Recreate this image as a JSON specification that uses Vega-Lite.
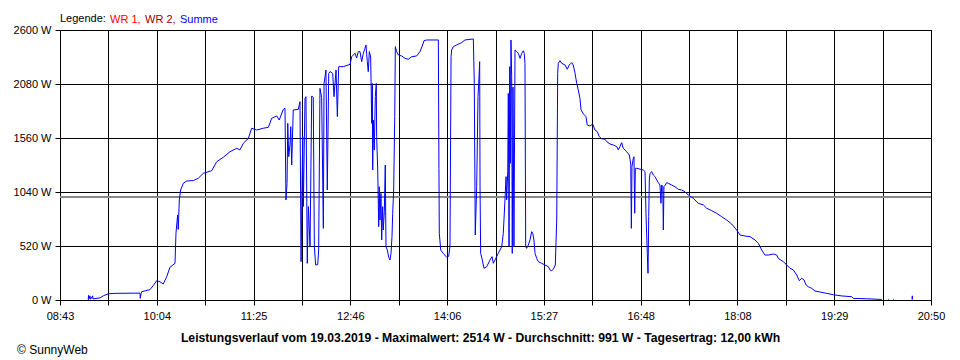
{
  "$schema": "https://vega.github.io/schema/vega-lite/v6.json",
  "width": 871,
  "height": 270,
  "autosize": {"type": "none"},
  "padding": {"left": 60, "top": 30, "right": 29, "bottom": 60},
  "background": "white",
  "title": {"text": "© SunnyWeb", "orient": "bottom", "anchor": "start", "frame": "bounds", "fontSize": 12, "fontWeight": "normal", "font": "Liberation Sans", "color": "black", "offset": 1, "dx": 4},
  "config": {
    "font": "Liberation Sans",
    "view": {"stroke": "black", "strokeWidth": 1},
    "axis": {"domainColor": "black", "tickColor": "black", "gridColor": "black", "gridOpacity": 1, "labelColor": "black", "labelFontSize": 11, "labelFont": "Liberation Sans", "tickSize": 5}
  },
  "data": {"values": [
{"t":546.6,"W":0},{"t":546.8,"W":45},{"t":547.2,"W":10},{"t":548.0,"W":40},{"t":548.5,"W":8},{"t":550.3,"W":40},{"t":550.5,"W":10},{"t":553.0,"W":15},{"t":556.4,"W":20},{"t":559.1,"W":40},{"t":563.3,"W":60},{"t":568.9,"W":64},{"t":577.3,"W":65},{"t":585.6,"W":66},{"t":589.8,"W":66},{"t":590.0,"W":16},{"t":590.6,"W":60},{"t":591.2,"W":80},{"t":594.0,"W":88},{"t":598.1,"W":100},{"t":600.9,"W":140},{"t":603.7,"W":186},{"t":606.5,"W":175},{"t":609.2,"W":154},{"t":612.1,"W":225},{"t":614.8,"W":315},{"t":619.0,"W":353},{"t":619.8,"W":642},{"t":620.7,"W":760},{"t":621.2,"W":819},{"t":621.7,"W":680},{"t":622.6,"W":963},{"t":623.7,"W":1059},{"t":625.9,"W":1124},{"t":628.8,"W":1146},{"t":634.3,"W":1150},{"t":638.4,"W":1172},{"t":642.6,"W":1220},{"t":649.6,"W":1245},{"t":653.8,"W":1332},{"t":659.3,"W":1374},{"t":664.9,"W":1428},{"t":670.5,"W":1461},{"t":673.2,"W":1445},{"t":676.0,"W":1509},{"t":680.2,"W":1557},{"t":683.0,"W":1654},{"t":687.2,"W":1637},{"t":692.7,"W":1654},{"t":696.9,"W":1663},{"t":699.7,"W":1750},{"t":703.9,"W":1772},{"t":706.0,"W":1733},{"t":709.4,"W":1836},{"t":710.8,"W":1846},{"t":711.6,"W":963},{"t":712.5,"W":1124},{"t":713.1,"W":1701},{"t":713.9,"W":1380},{"t":715.0,"W":1500},{"t":715.6,"W":1669},{"t":716.4,"W":1300},{"t":717.7,"W":1830},{"t":721.9,"W":1836},{"t":723.3,"W":1910},{"t":724.2,"W":369},{"t":725.6,"W":1573},{"t":726.1,"W":900},{"t":727.5,"W":1942},{"t":728.3,"W":1958},{"t":729.4,"W":353},{"t":730.3,"W":900},{"t":731.7,"W":513},{"t":733.1,"W":1965},{"t":734.4,"W":1950},{"t":735.3,"W":513},{"t":736.4,"W":337},{"t":738.1,"W":340},{"t":738.9,"W":481},{"t":740.0,"W":2038},{"t":741.4,"W":1950},{"t":742.8,"W":690},{"t":743.4,"W":2086},{"t":745.0,"W":2215},{"t":746.1,"W":1059},{"t":747.3,"W":2182},{"t":748.4,"W":2200},{"t":750.6,"W":2182},{"t":751.7,"W":1958},{"t":753.4,"W":2215},{"t":754.5,"W":1766},{"t":755.6,"W":2247},{"t":759.5,"W":2247},{"t":765.1,"W":2269},{"t":766.5,"W":2343},{"t":769.2,"W":2376},{"t":770.6,"W":2330},{"t":772.0,"W":2392},{"t":773.4,"W":2392},{"t":774.8,"W":2295},{"t":776.2,"W":2376},{"t":777.6,"W":2424},{"t":778.4,"W":2456},{"t":779.5,"W":2295},{"t":780.3,"W":2199},{"t":781.2,"W":2392},{"t":782.3,"W":2340},{"t":783.2,"W":1701},{"t":783.7,"W":2086},{"t":784.0,"W":1252},{"t":784.5,"W":1733},{"t":785.3,"W":1445},{"t":786.2,"W":1958},{"t":787.0,"W":2086},{"t":787.3,"W":1573},{"t":788.2,"W":1252},{"t":789.0,"W":706},{"t":789.5,"W":1091},{"t":790.1,"W":770},{"t":790.9,"W":1027},{"t":791.5,"W":578},{"t":792.3,"W":899},{"t":792.8,"W":674},{"t":793.7,"W":850},{"t":794.5,"W":1300},{"t":795.1,"W":513},{"t":796.2,"W":481},{"t":797.4,"W":411},{"t":798.4,"W":385},{"t":799.3,"W":449},{"t":800.1,"W":610},{"t":800.7,"W":835},{"t":801.5,"W":1059},{"t":802.4,"W":1766},{"t":802.9,"W":2440},{"t":804.0,"W":2392},{"t":805.4,"W":2359},{"t":808.2,"W":2350},{"t":811.0,"W":2327},{"t":813.7,"W":2318},{"t":816.6,"W":2343},{"t":820.7,"W":2350},{"t":823.5,"W":2392},{"t":825.7,"W":2456},{"t":826.8,"W":2497},{"t":829.1,"W":2504},{"t":838.8,"W":2504},{"t":839.3,"W":1268},{"t":839.6,"W":642},{"t":840.8,"W":481},{"t":842.9,"W":449},{"t":845.8,"W":411},{"t":847.4,"W":420},{"t":848.5,"W":513},{"t":849.4,"W":2343},{"t":849.9,"W":2408},{"t":851.3,"W":2440},{"t":854.1,"W":2456},{"t":858.3,"W":2479},{"t":861.0,"W":2504},{"t":868.0,"W":2514},{"t":868.8,"W":2086},{"t":869.6,"W":626},{"t":870.8,"W":1091},{"t":871.9,"W":1958},{"t":872.7,"W":2135},{"t":873.3,"W":2295},{"t":873.6,"W":1091},{"t":874.1,"W":449},{"t":875.2,"W":401},{"t":876.9,"W":305},{"t":879.2,"W":321},{"t":881.9,"W":385},{"t":883.6,"W":417},{"t":884.7,"W":353},{"t":886.1,"W":385},{"t":888.8,"W":449},{"t":891.7,"W":513},{"t":893.0,"W":642},{"t":894.4,"W":963},{"t":895.3,"W":1188},{"t":895.8,"W":963},{"t":896.7,"W":1236},{"t":897.2,"W":1990},{"t":897.8,"W":513},{"t":898.4,"W":2247},{"t":898.9,"W":1316},{"t":899.4,"W":2504},{"t":900.0,"W":2150},{"t":900.5,"W":449},{"t":901.1,"W":2050},{"t":901.9,"W":513},{"t":902.8,"W":2408},{"t":904.2,"W":2392},{"t":905.5,"W":2376},{"t":907.0,"W":2327},{"t":908.4,"W":2376},{"t":909.7,"W":2400},{"t":910.5,"W":2376},{"t":911.1,"W":2279},{"t":911.7,"W":513},{"t":912.5,"W":497},{"t":913.9,"W":529},{"t":915.3,"W":578},{"t":916.7,"W":658},{"t":917.6,"W":642},{"t":918.6,"W":578},{"t":919.5,"W":449},{"t":920.9,"W":401},{"t":922.2,"W":369},{"t":925.1,"W":353},{"t":927.8,"W":337},{"t":930.6,"W":321},{"t":932.0,"W":289},{"t":933.4,"W":282},{"t":934.7,"W":295},{"t":936.4,"W":337},{"t":937.6,"W":770},{"t":938.4,"W":2183},{"t":938.9,"W":2279},{"t":940.3,"W":2305},{"t":941.8,"W":2279},{"t":944.5,"W":2263},{"t":946.4,"W":2222},{"t":948.1,"W":2263},{"t":950.1,"W":2286},{"t":951.4,"W":2263},{"t":952.9,"W":2183},{"t":954.3,"W":2086},{"t":955.6,"W":2022},{"t":957.0,"W":1942},{"t":957.9,"W":1830},{"t":959.8,"W":1792},{"t":962.0,"W":1766},{"t":963.1,"W":1685},{"t":965.4,"W":1675},{"t":967.6,"W":1695},{"t":969.5,"W":1637},{"t":971.5,"W":1621},{"t":973.1,"W":1573},{"t":975.1,"W":1553},{"t":977.9,"W":1547},{"t":979.3,"W":1525},{"t":982.1,"W":1502},{"t":984.8,"W":1493},{"t":987.7,"W":1477},{"t":989.0,"W":1445},{"t":990.4,"W":1477},{"t":991.8,"W":1515},{"t":993.2,"W":1460},{"t":996.0,"W":1428},{"t":998.2,"W":1396},{"t":999.4,"W":1310},{"t":999.9,"W":690},{"t":1000.4,"W":1284},{"t":1001.5,"W":1364},{"t":1002.1,"W":1380},{"t":1002.7,"W":835},{"t":1003.2,"W":1268},{"t":1004.4,"W":1268},{"t":1007.1,"W":1260},{"t":1009.9,"W":1252},{"t":1011.3,"W":1236},{"t":1012.1,"W":835},{"t":1013.2,"W":449},{"t":1013.8,"W":257},{"t":1014.4,"W":803},{"t":1014.9,"W":1156},{"t":1015.5,"W":1220},{"t":1016.9,"W":1236},{"t":1018.2,"W":1204},{"t":1019.6,"W":1188},{"t":1021.1,"W":1156},{"t":1022.4,"W":1130},{"t":1023.8,"W":1107},{"t":1024.6,"W":931},{"t":1025.2,"W":1107},{"t":1026.1,"W":1091},{"t":1026.6,"W":674},{"t":1027.1,"W":1091},{"t":1028.2,"W":1107},{"t":1029.4,"W":1130},{"t":1030.7,"W":1124},{"t":1033.6,"W":1107},{"t":1036.3,"W":1091},{"t":1039.1,"W":1066},{"t":1041.9,"W":1059},{"t":1044.7,"W":1043},{"t":1047.4,"W":1011},{"t":1051.6,"W":979},{"t":1055.8,"W":931},{"t":1060.0,"W":915},{"t":1062.8,"W":883},{"t":1067.0,"W":860},{"t":1071.1,"W":835},{"t":1075.3,"W":802},{"t":1079.5,"W":770},{"t":1083.6,"W":732},{"t":1087.8,"W":674},{"t":1090.6,"W":626},{"t":1094.8,"W":616},{"t":1098.9,"W":610},{"t":1103.1,"W":578},{"t":1105.9,"W":546},{"t":1108.7,"W":481},{"t":1111.4,"W":433},{"t":1114.2,"W":433},{"t":1118.4,"W":443},{"t":1121.2,"W":433},{"t":1122.5,"W":401},{"t":1126.7,"W":369},{"t":1129.6,"W":337},{"t":1132.3,"W":305},{"t":1135.1,"W":289},{"t":1137.9,"W":241},{"t":1140.1,"W":186},{"t":1142.1,"W":209},{"t":1144.0,"W":193},{"t":1145.7,"W":145},{"t":1147.6,"W":128},{"t":1150.4,"W":112},{"t":1153.2,"W":87},{"t":1157.3,"W":77},{"t":1162.9,"W":64},{"t":1168.5,"W":51},{"t":1175.5,"W":39},{"t":1183.8,"W":32},{"t":1185.1,"W":16},{"t":1196.3,"W":12},{"t":1207.4,"W":6},{"t":1208.9,"W":6},{"t":1209.5,"W":null},{"t":1214.4,"W":6},{"t":1215.0,"W":6},{"t":1215.5,"W":null},{"t":1218.5,"W":6},{"t":1219.1,"W":6},{"t":1219.6,"W":null},{"t":1234.1,"W":5},{"t":1234.4,"W":40},{"t":1234.7,"W":5}
  ]},
  "layer": [
    {
      "mark": {"type": "rule", "color": "#888888", "strokeWidth": 1},
      "encoding": {"y": {"datum": 991, "type": "quantitative"}}
    },
    {
      "mark": {"type": "line", "strokeWidth": 1, "invalid": "break-paths-show-domains"},
      "encoding": {
        "x": {
          "field": "t", "type": "quantitative",
          "scale": {"domain": [523, 1250], "nice": false, "zero": false},
          "axis": {
            "values": [523, 563.3889, 603.7778, 644.1667, 684.5556, 724.9444, 765.3333, 805.7222, 846.1111, 886.5, 926.8889, 967.2778, 1007.6667, 1048.0556, 1088.4444, 1128.8333, 1169.2222, 1209.6111, 1250],
            "labelExpr": "['08:43','','10:04','','11:25','','12:46','','14:06','','15:27','','16:48','','18:08','','19:29','','20:50'][round((datum.value-523)/40.38889)]",
            "grid": true, "labelOverlap": false, "labelFlush": false, "labelPadding": 5,
            "title": "Leistungsverlauf vom 19.03.2019 - Maximalwert: 2514 W - Durchschnitt: 991 W - Tagesertrag: 12,00 kWh",
            "titleFontSize": 12.2, "titleFontWeight": "bold", "titleColor": "black", "titleFont": "Liberation Sans",
            "titleX": 420, "titleY": 41.5, "titleAnchor": "middle", "titleBaseline": "alphabetic"
          }
        },
        "y": {
          "field": "W", "type": "quantitative",
          "scale": {"domain": [0, 2600], "nice": false},
          "axis": {
            "values": [0, 520, 1040, 1560, 2080, 2600],
            "labelExpr": "datum.value + ' W'",
            "grid": true, "title": null, "labelPadding": 4
          }
        },
        "color": {
          "datum": "Summe", "type": "nominal",
          "scale": {"domain": ["WR 1", "WR 2", "Summe"], "range": ["#ff0000", "#990000", "#0000ff"]},
          "legend": {
            "title": "Legende:", "orient": "top", "direction": "horizontal", "titleOrient": "left",
            "symbolSize": 0, "symbolOpacity": 0, "symbolStrokeWidth": 0, "labelOffset": -11,
            "columnPadding": 4, "titlePadding": 4, "labelFontSize": 11, "titleFontSize": 11,
            "titleFontWeight": "normal", "titleColor": "black", "titleFont": "Liberation Sans", "labelFont": "Liberation Sans",
            "offset": 5, "padding": 0,
            "labelExpr": "datum.value == 'Summe' ? datum.value : datum.value + ','",
            "encode": {"labels": {"update": {"fill": {"scale": "color", "field": "value"}}}}
          }
        }
      }
    }
  ]
}
